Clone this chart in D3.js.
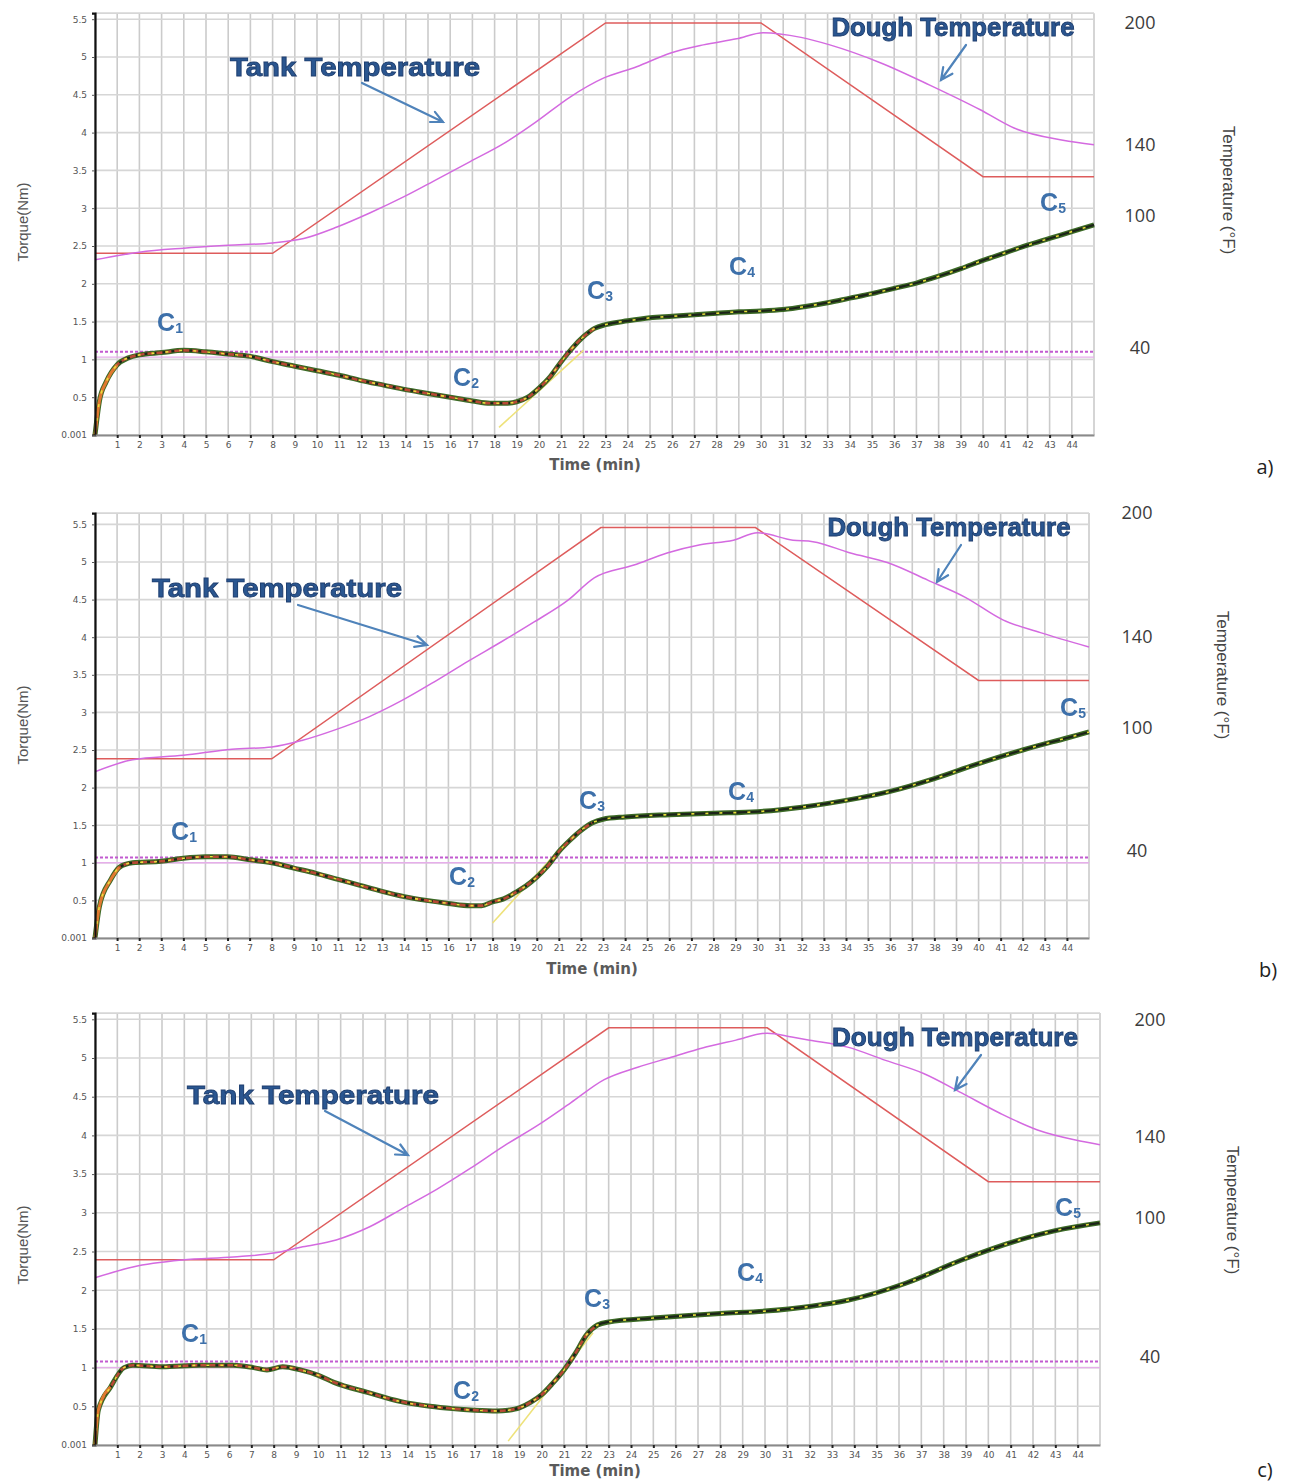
<!DOCTYPE html>
<html><head><meta charset="utf-8">
<script src="https://cdn.jsdelivr.net/npm/d3@7"></script>
<style>body{margin:0;background:#fff;} svg{display:block;}</style>
</head><body>
<svg id="chart" width="1290" height="1482"></svg>
<script>
// ================= DATA =================
const timeTicks = d3.range(1, 45);               // 1..44 minutes
const gridTimes = d3.range(0, 46);
const torqueTicks = [0, 0.5, 1, 1.5, 2, 2.5, 3, 3.5, 4, 4.5, 5, 5.5];
const torqueTickLabels = ["0.001","0.5","1","1.5","2","2.5","3","3.5","4","4.5","5","5.5"];
const tempTicks = [40, 100, 140, 200];
const curveLabels = ["1","2","3","4","5"];
const panelTags = ["a)", "b)", "c)"];

// ---- panel a ----
const torqueTimeA = [0,0.2,0.5,1,1.5,2,3,4,5,6,7,8,9,10,11,12,13,14,15,16,17,17.8,18.5,19,19.5,20,20.5,21,21.5,22,22.5,23,24,25,26,27,28,29,30,31,32,33,34,35,36,37,38,39,40,41,42,43,44,45];
const torqueA     = [0,0.45,0.7,0.93,1.02,1.06,1.09,1.12,1.1,1.07,1.04,0.97,0.91,0.85,0.79,0.72,0.66,0.6,0.55,0.5,0.45,0.42,0.42,0.44,0.5,0.62,0.77,0.97,1.15,1.3,1.41,1.46,1.51,1.55,1.57,1.59,1.61,1.63,1.64,1.66,1.7,1.75,1.81,1.87,1.94,2.01,2.1,2.2,2.31,2.41,2.51,2.6,2.69,2.78];
const tankTimeA = [0, 8, 23, 30, 40, 45];
const tankTempA = [83, 83, 200, 200, 122, 122];
const doughTimeA = [0,2,4,6,8,9.4,10.9,12.4,13.9,15.4,16.9,18.4,19.9,21.4,22.9,24.4,25.9,27.4,28.9,30.1,31.8,33.1,35.4,37.6,39.9,41.4,43.6,45];
const doughTempA = [80,83.5,85.3,86.6,87.7,89.7,94.9,101.7,110.6,120.5,130.5,140.5,151.5,163.5,172.8,178.4,185.1,189.2,192.2,195.2,192.9,189.2,180.3,169.4,157.1,148.2,142.2,140];
const refTorqueA = [1.1, 1.03];
const fitTimeA = [18.2, 22];
const fitTorqueA = [0.1, 1.12];

// ---- panel b ----
const torqueTimeB = [0,0.2,0.7,1.1,1.7,3,4,5,6,7,8,9,10,11,12,13,14,15,16,17,17.5,18,18.5,19,19.5,20,20.5,21,21.5,22,22.5,23,24,26,28,30,32,34,36,38,40,42,44,45];
const torqueB     = [0,0.42,0.77,0.94,1.0,1.02,1.06,1.08,1.08,1.04,1.0,0.93,0.86,0.78,0.7,0.62,0.55,0.5,0.46,0.43,0.43,0.48,0.52,0.6,0.69,0.81,0.96,1.15,1.3,1.43,1.53,1.58,1.61,1.64,1.66,1.68,1.74,1.83,1.95,2.12,2.32,2.5,2.66,2.74];
const tankTimeB = [0, 8, 22.9, 29.9, 40, 45];
const tankTempB = [85, 85, 193, 193, 121, 121];
const doughTimeB = [0,1.7,4,6.2,8,9.4,10.9,12.4,13.9,15.4,16.9,18.4,19.9,21.4,22.6,24.4,25.9,27.4,28.9,30,31.6,32.5,34.2,35.9,37.7,39.4,41.1,42.8,45];
const doughTempB = [78.7,84.5,86.7,89.7,90.8,94.1,99.3,105,112.2,120.6,129.5,138,147.5,157.8,168.7,174.9,180.7,184.7,186.9,190.5,186.9,186.2,180.7,176,167.6,159.3,148.4,142.2,135.7];
const refTorqueB = [1.07, 1.0];
const fitTimeB = [18, 21];
const fitTorqueB = [0.2, 1.17];

// ---- panel c ----
const torqueTimeC = [0,0.15,0.7,1.3,1.7,3,4.7,6.2,7.1,7.7,8.4,9.2,10,10.7,12.2,13.7,15,16,17,18,18.5,19,19.5,20,20.5,21,21.5,22,22.5,23,25,28,30,32,33.7,36.3,38.8,41.4,43,45];
const torqueC     = [0,0.45,0.75,1.0,1.03,1.01,1.03,1.03,1.0,0.97,1.01,0.97,0.9,0.81,0.68,0.56,0.5,0.47,0.45,0.44,0.45,0.48,0.55,0.65,0.8,0.97,1.18,1.42,1.55,1.59,1.64,1.7,1.73,1.79,1.87,2.09,2.39,2.65,2.77,2.87];
const tankTimeC = [0, 8, 23, 30.1, 40, 45];
const tankTempC = [82, 82, 196, 196, 118, 118];
const doughTimeC = [0,1.7,3.9,6.2,8,9.3,10.8,12.3,13.8,15.3,16.8,18.3,19.8,21.3,22.8,24.3,25.8,27.2,28.7,30.1,31.2,32,33.7,35.4,37.1,38.8,40.5,42.2,43.9,45];
const doughTempC = [74.2,78.9,81.9,83.2,84.9,87.6,90.6,96.3,105,114.2,124.5,135.5,145.8,157.5,169.4,175.8,180.9,185.7,189.7,193.3,191.3,189.7,186.1,179.3,172.6,162.6,152.3,143.6,138.5,136.2];
const refTorqueC = [1.08, 1.0];
const fitTimeC = [18.5, 22.3];
const fitTorqueC = [0.05, 1.45];

// ================= LAYOUT (pixels) =================
const layouts = [
  {left:95, right:1094, zeroY:435, unitPx:75.6, topTorque:5.58, tempTorque:[1.15,2.90,3.84,5.45], tempLabelX:1140,
   tempTitle:[1228,190], torqueTitle:[22,222], timeTitle:[595,465], tag:[1265,466],
   tankText:[355,67], tankLen:250, tankArrow:[[362,83],[443,122]], doughText:[953,27], doughLen:243, doughArrow:[[966,45],[941,80]],
   C:[[170,322],[466,377],[600,290],[742,266],[1053,202]]},
  {left:95, right:1089, zeroY:938, unitPx:75.2, topTorque:5.65, tempTorque:[1.16,2.79,4.0,5.65], tempLabelX:1137,
   tempTitle:[1222,675], torqueTitle:[22,725], timeTitle:[592,969], tag:[1268,969],
   tankText:[277,588], tankLen:250, tankArrow:[[298,605],[427,645]], doughText:[949,527], doughLen:243, doughArrow:[[961,545],[937,582]],
   C:[[184,831],[462,876],[592,800],[741,791],[1073,707]]},
  {left:95, right:1100, zeroY:1445, unitPx:77.4, topTorque:5.58, tempTorque:[1.14,2.93,3.98,5.49], tempLabelX:1150,
   tempTitle:[1232,1210], torqueTitle:[22,1245], timeTitle:[595,1471], tag:[1265,1469],
   tankText:[313,1095], tankLen:252, tankArrow:[[325,1111],[408,1155]], doughText:[955,1037], doughLen:246, doughArrow:[[981,1055],[955,1090]],
   C:[[194,1333],[466,1390],[597,1298],[750,1272],[1068,1207]]}
];

const panelsData = [
  {tT:torqueTimeA, tq:torqueA, kT:tankTimeA, kV:tankTempA, dT:doughTimeA, dV:doughTempA, ref:refTorqueA, fT:fitTimeA, fV:fitTorqueA},
  {tT:torqueTimeB, tq:torqueB, kT:tankTimeB, kV:tankTempB, dT:doughTimeB, dV:doughTempB, ref:refTorqueB, fT:fitTimeB, fV:fitTorqueB},
  {tT:torqueTimeC, tq:torqueC, kT:tankTimeC, kV:tankTempC, dT:doughTimeC, dV:doughTempC, ref:refTorqueC, fT:fitTimeC, fV:fitTorqueC}
];

// ================= DRAW =================
const svg = d3.select("#chart");
const defs = svg.append("defs");
const blur = defs.append("filter").attr("id","soft").attr("x","-5%").attr("y","-20%").attr("width","110%").attr("height","140%");
blur.append("feGaussianBlur").attr("stdDeviation", 0.55);

function drawPanel(L, D, idx) {
  const g = svg.append("g");
  const x = d3.scaleLinear().domain([0, 45]).range([L.left, L.right]);
  const y = d3.scaleLinear().domain([0, L.topTorque]).range([L.zeroY, L.zeroY - L.topTorque * L.unitPx]);
  const yTemp = d3.scaleLinear().domain(tempTicks).range(L.tempTorque.map(y));

  // grid
  const grid = g.append("g");
  grid.selectAll("line.v").data(gridTimes).join("line")
    .attr("x1", d => x(d)).attr("x2", d => x(d))
    .attr("y1", y(L.topTorque)).attr("y2", y(0))
    .attr("stroke", "#cbcbcb").attr("stroke-width", 1.6);
  grid.selectAll("line.h").data(torqueTicks.concat([L.topTorque])).join("line")
    .attr("x1", x(0)).attr("x2", x(45))
    .attr("y1", d => y(d)).attr("y2", d => y(d))
    .attr("stroke", "#d6d6d6").attr("stroke-width", 1.6);

  // reference (dotted) line near 1.1
  g.append("line").attr("x1", x(0)).attr("x2", x(45))
    .attr("y1", y(D.ref[1])).attr("y2", y(D.ref[1]))
    .attr("stroke", "#e6aeea").attr("stroke-width", 1.4);
  g.append("line").attr("x1", x(0)).attr("x2", x(45))
    .attr("y1", y(D.ref[0])).attr("y2", y(D.ref[0]))
    .attr("stroke", "#c25ad0").attr("stroke-width", 2).attr("stroke-dasharray", "3,2");

  // temperature lines
  const tempLine = d3.line().x(d => x(d[0])).y(d => yTemp(d[1]));
  g.append("path").datum(D.kT.map((t, i) => [t, D.kV[i]]))
    .attr("d", tempLine).attr("fill", "none").attr("stroke", "#de5c5c").attr("stroke-width", 1.5);
  g.append("path").datum(D.dT.map((t, i) => [t, D.dV[i]]))
    .attr("d", tempLine.curve(d3.curveMonotoneX)).attr("fill", "none").attr("stroke", "#d46ae0").attr("stroke-width", 1.5);

  // fit line (yellow)
  g.append("line").attr("x1", x(D.fT[0])).attr("y1", y(D.fV[0]))
    .attr("x2", x(D.fT[1])).attr("y2", y(D.fV[1]))
    .attr("stroke", "#eee27a").attr("stroke-width", 1.6);

  // torque curve
  const pts = D.tT.map((t, i) => [t, D.tq[i]]);
  const tl = d3.line().x(d => x(d[0])).y(d => y(d[1])).curve(d3.curveMonotoneX);
  g.append("path").datum(pts).attr("d", tl).attr("fill", "none")
    .attr("stroke", "#3c6a26").attr("stroke-width", 5).attr("stroke-linejoin", "round");
  g.append("path").datum(pts).attr("d", tl).attr("fill", "none")
    .attr("stroke", "#1c2418").attr("stroke-width", 2.2);
  g.append("path").datum(pts.filter(d => d[0] <= 22.5)).attr("d", tl).attr("fill", "none")
    .attr("stroke", "#b84a34").attr("stroke-width", 2.6).attr("stroke-dasharray", "6,3");
  g.append("path").datum(pts.filter(d => d[0] <= 1.2)).attr("d", tl).attr("fill", "none")
    .attr("stroke", "#e07a30").attr("stroke-width", 3);
  g.append("path").datum(pts).attr("d", tl).attr("fill", "none")
    .attr("stroke", "#e8e23c").attr("stroke-width", 1.6).attr("stroke-dasharray", "3,11");

  // axes
  const yAxis = g.append("g").attr("transform", `translate(${x(0)},0)`)
    .call(d3.axisLeft(y).tickValues(torqueTicks).tickFormat((d, i) => torqueTickLabels[i]).tickSize(3).tickPadding(5));
  yAxis.select(".domain").attr("stroke", "#111").attr("stroke-width", 2.2);
  yAxis.selectAll("text").attr("font-family", "DejaVu Sans, sans-serif").attr("font-size", 9).attr("fill", "#555");
  yAxis.selectAll(".tick line").attr("stroke", "#555");

  const xAxis = g.append("g").attr("transform", `translate(0,${y(0)})`)
    .call(d3.axisBottom(x).tickValues(timeTicks).tickFormat(d3.format("d")).tickSize(3).tickPadding(4).tickSizeOuter(0));
  xAxis.select(".domain").attr("stroke", "#8a8a8a").attr("stroke-width", 2);
  xAxis.selectAll(".tick line").attr("stroke", "#222").attr("stroke-width", 2);
  xAxis.selectAll("text").attr("font-family", "DejaVu Sans, sans-serif").attr("font-size", 9).attr("fill", "#555");

  // right temperature labels
  const tAxis = g.append("g").attr("transform", `translate(${L.tempLabelX},0)`)
    .call(d3.axisRight(yTemp).tickValues(tempTicks).tickSize(0).tickPadding(0));
  tAxis.select(".domain").remove();
  tAxis.selectAll("text").attr("text-anchor", "middle").attr("font-family", "Open Sans, sans-serif")
    .attr("font-size", 18).attr("fill", "#3c3c3c");

  // axis titles
  g.append("text").attr("transform", `translate(${L.torqueTitle[0]},${L.torqueTitle[1]}) rotate(-90)`)
    .attr("text-anchor", "middle").attr("dominant-baseline", "central")
    .attr("font-family", "Liberation Sans Narrow, Arial Narrow, sans-serif").attr("font-size", 15).attr("fill", "#555")
    .text("Torque(Nm)");
  g.append("text").attr("transform", `translate(${L.tempTitle[0]},${L.tempTitle[1]}) rotate(90)`)
    .attr("text-anchor", "middle").attr("dominant-baseline", "central")
    .attr("font-family", "Liberation Sans Narrow, Arial Narrow, sans-serif").attr("font-size", 17).attr("fill", "#444")
    .text("Temperature (°F)");
  g.append("text").attr("x", L.timeTitle[0]).attr("y", L.timeTitle[1])
    .attr("text-anchor", "middle").attr("dominant-baseline", "central")
    .attr("font-family", "DejaVu Sans, sans-serif").attr("font-weight", "bold").attr("font-size", 15).attr("fill", "#5a5a5a")
    .text("Time (min)");
  g.append("text").attr("x", L.tag[0]).attr("y", L.tag[1])
    .attr("text-anchor", "middle").attr("dominant-baseline", "central")
    .attr("font-family", "Open Sans, sans-serif").attr("font-size", 20).attr("fill", "#222")
    .text(panelTags[idx]);

  // annotations
  function bigLabel(pos, len, txt) {
    g.append("text").attr("x", pos[0] - len / 2).attr("y", pos[1])
      .attr("dominant-baseline", "central")
      .attr("textLength", len).attr("lengthAdjust", "spacingAndGlyphs")
      .attr("font-family", "Liberation Sans, Arial, sans-serif").attr("font-weight", "bold").attr("font-size", 26)
      .attr("fill", "#2b5690").attr("stroke", "#1f3f70").attr("stroke-width", 0.9).attr("filter", "url(#soft)")
      .text(txt);
  }
  function arrow(p) {
    const [a, b] = p;
    const ang = Math.atan2(b[1] - a[1], b[0] - a[0]);
    const h = 13, sp = 0.45;
    const path = `M${a[0]},${a[1]}L${b[0]},${b[1]}` +
      `M${b[0] - h * Math.cos(ang - sp)},${b[1] - h * Math.sin(ang - sp)}L${b[0]},${b[1]}` +
      `L${b[0] - h * Math.cos(ang + sp)},${b[1] - h * Math.sin(ang + sp)}`;
    g.append("path").attr("d", path).attr("fill", "none").attr("stroke", "#4f83ba").attr("stroke-width", 2.2)
      .attr("stroke-linecap", "round").attr("filter", "url(#soft)");
  }
  bigLabel(L.tankText, L.tankLen, "Tank Temperature");
  arrow(L.tankArrow);
  bigLabel(L.doughText, L.doughLen, "Dough Temperature");
  arrow(L.doughArrow);

  L.C.forEach((p, i) => {
    const t = g.append("text").attr("x", p[0]).attr("y", p[1])
      .attr("text-anchor", "middle").attr("dominant-baseline", "central")
      .attr("font-family", "Liberation Sans, Arial, sans-serif").attr("font-weight", "bold")
      .attr("fill", "#3d70aa").attr("filter", "url(#soft)");
    t.append("tspan").attr("font-size", 25).text("C");
    t.append("tspan").attr("font-size", 14).attr("dy", 6).text(curveLabels[i]);
  });
}

layouts.forEach((L, i) => drawPanel(L, panelsData[i], i));
</script>
</body></html>
